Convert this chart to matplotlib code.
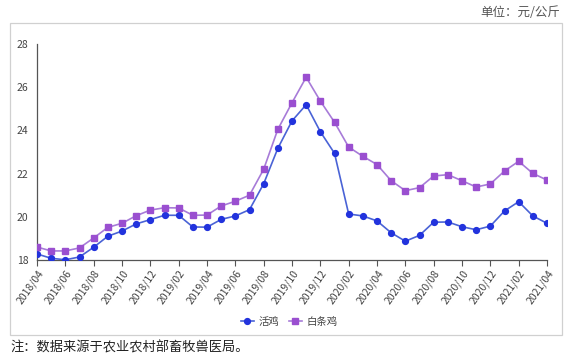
import matplotlib
matplotlib.use("Agg")
import matplotlib.pyplot as plt
from matplotlib.patches import Rectangle
import numpy as np

plt.rcParams['font.family'] = ['Noto Sans CJK SC', 'DejaVu Sans']

months = []
for y in range(2018, 2022):
    for m in range(1, 13):
        if (y == 2018 and m < 4) or (y == 2021 and m > 4):
            continue
        months.append(f"{y}/{m:02d}")

live_chicken = [18.28, 18.08, 18.01, 18.14, 18.59, 19.10, 19.34, 19.67, 19.87, 20.07, 20.07, 19.53,
                19.52, 19.88, 20.04, 20.33, 21.53, 23.17, 24.44, 25.19, 23.94, 22.94, 20.13, 20.04,
                19.81, 19.26, 18.87, 19.14, 19.75, 19.76, 19.54, 19.40, 19.57, 20.27, 20.70, 20.04, 19.70]
white_chicken = [18.60, 18.42, 18.42, 18.56, 19.02, 19.51, 19.70, 20.05, 20.31, 20.42, 20.41, 20.07,
                 20.08, 20.50, 20.72, 21.00, 22.20, 24.05, 25.28, 26.46, 25.36, 24.38, 23.23, 22.80,
                 22.42, 21.67, 21.21, 21.35, 21.89, 21.95, 21.67, 21.38, 21.52, 22.12, 22.57, 22.01, 21.70]
series_names = ["活鸡", "白条鸡"]
y_ticks = [18, 20, 22, 24, 26, 28]

W, H = 568, 360
fig = plt.figure(figsize=(W / 100, H / 100), dpi=100)
ax = fig.add_axes([37 / W, 1 - 260 / H, (547 - 37) / W, (260 - 44) / H])

x = np.arange(len(months))
ax.plot(x, live_chicken, color='#4a63d6', lw=1.2, marker='o', ms=4.2,
        mfc='#2233dd', mec='#2233dd', label=series_names[0], zorder=3)
ax.plot(x, white_chicken, color='#a77bd8', lw=1.2, marker='s', ms=4.0,
        mfc='#9a4fd0', mec='#9a4fd0', label=series_names[1], zorder=3)

ax.set_xlim(0, len(months) - 1)
ax.set_ylim(18, 28)
ax.set_yticks(y_ticks)
ax.set_yticklabels([str(t) for t in y_ticks])
ax.set_xticks(x[::2])
ax.set_xticklabels(months[::2], rotation=55, ha='right', rotation_mode='anchor')
ax.tick_params(axis='x', length=4, width=0.8, color='#555555', labelsize=7.5,
               labelcolor='#444444', pad=2)
ax.tick_params(axis='y', length=0, labelsize=7.5, labelcolor='#444444', pad=6)
for s in ['top', 'right']:
    ax.spines[s].set_visible(False)
ax.spines['left'].set_color('#555555')
ax.spines['bottom'].set_color('#555555')
ax.spines['left'].set_linewidth(0.9)
ax.spines['bottom'].set_linewidth(0.9)

leg = fig.legend(loc='center', bbox_to_anchor=(289 / W, 1 - 322 / H), ncol=2,
                 frameon=False, fontsize=7.5, handlelength=1.3, columnspacing=0.9,
                 handletextpad=0.4)
for t in leg.get_texts():
    t.set_color('#444444')

fig.patches.append(Rectangle((10 / W, 1 - 335 / H), (562 - 10) / W, (335 - 23) / H,
                             transform=fig.transFigure, fill=False,
                             edgecolor='#d0d0d0', lw=0.9))

fig.text(560 / W, 1 - 13 / H, "单位：元/公斤", ha='right', va='center',
         fontsize=9, color='#555555')
fig.text(10 / W, 1 - 348 / H, "注：数据来源于农业农村部畜牧兽医局。", ha='left', va='center',
         fontsize=9.5, color='#222222')

fig.savefig("out.png", dpi=100)
